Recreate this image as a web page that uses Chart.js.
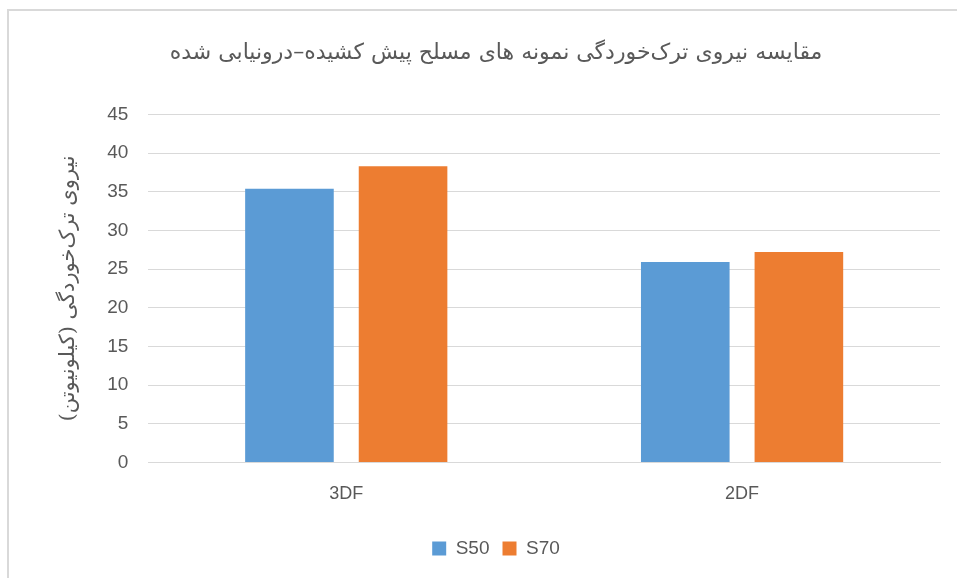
<!DOCTYPE html>
<html>
<head>
<meta charset="utf-8">
<script src="https://cdn.jsdelivr.net/npm/chart.js@4/dist/chart.umd.min.js"></script>
<style>
  html, body { margin: 0; padding: 0; background: #fff; overflow: hidden; }
  #frame { position: absolute; left: 7px; top: 9px; width: 960px; height: 580px; border: 2px solid #d9d9d9; box-sizing: border-box; }
  #wrap { position: absolute; left: 0; top: 0; width: 957px; height: 578px; }
</style>
</head>
<body>
<div id="frame"></div>
<div id="wrap"><canvas id="myChart" width="957" height="578"></canvas></div>
<script>
// chart data
const categories = ['3DF', '2DF'];
const s50 = [35.4, 25.9];
const s70 = [38.3, 27.2];
const seriesNames = ['S50', 'S70'];
const yTicks = [0, 5, 10, 15, 20, 25, 30, 35, 40, 45];

const titleText = 'مقایسه نیروی ترک‌خوردگی نمونه های مسلح پیش کشیده–درونیابی شده';
const yTitleText = 'نیروی ترک‌خوردگی (کیلونیوتن)';

const textColor = '#595959';
const gridColor = '#d9d9d9';

function renderChart(ctx) {
    return new Chart(ctx, {
        type: 'bar',
        data: {
            labels: categories,
            datasets: [
                { label: seriesNames[0], data: s50, backgroundColor: '#5b9bd5' },
                { label: seriesNames[1], data: s70, backgroundColor: '#ed7d31' }
            ]
        },
        options: {
            responsive: false,
            animation: false,
            layout: { padding: { left: 52, right: 17, top: 40, bottom: 10 } },
            datasets: { bar: { categoryPercentage: 0.574, barPercentage: 0.78 } },
            scales: {
                x: {
                    grid: { display: false, drawTicks: false },
                    border: { color: gridColor, width: 1 },
                    ticks: { color: textColor, font: { family: 'Liberation Sans', size: 18 }, padding: 21 }
                },
                y: {
                    min: 0,
                    max: 45,
                    afterBuildTicks: axis => { axis.ticks = yTicks.map(v => ({ value: v })); },
                    grid: { color: gridColor, drawTicks: false },
                    border: { display: false },
                    ticks: { color: textColor, font: { family: 'Liberation Sans', size: 19 }, padding: 20 },
                    title: {
                        display: true,
                        text: yTitleText,
                        color: textColor,
                        font: { family: 'DejaVu Serif, DejaVu Sans', size: 21 },
                        padding: { bottom: 6 }
                    }
                }
            },
            plugins: {
                title: {
                    display: true,
                    text: titleText,
                    color: textColor,
                    font: { family: 'DejaVu Serif, DejaVu Sans', size: 22, weight: 'normal' },
                    padding: { bottom: 48 }
                },
                legend: {
                    position: 'bottom',
                    labels: {
                        color: textColor,
                        font: { family: 'Liberation Sans', size: 19 },
                        boxWidth: 14,
                        boxHeight: 14,
                        padding: 13
                    }
                },
                tooltip: { enabled: false }
            }
        }
    });
}

window.onload = () => {
    const ctx = document.getElementById('myChart').getContext('2d');
    renderChart(ctx);
};
</script>
</body>
</html>
